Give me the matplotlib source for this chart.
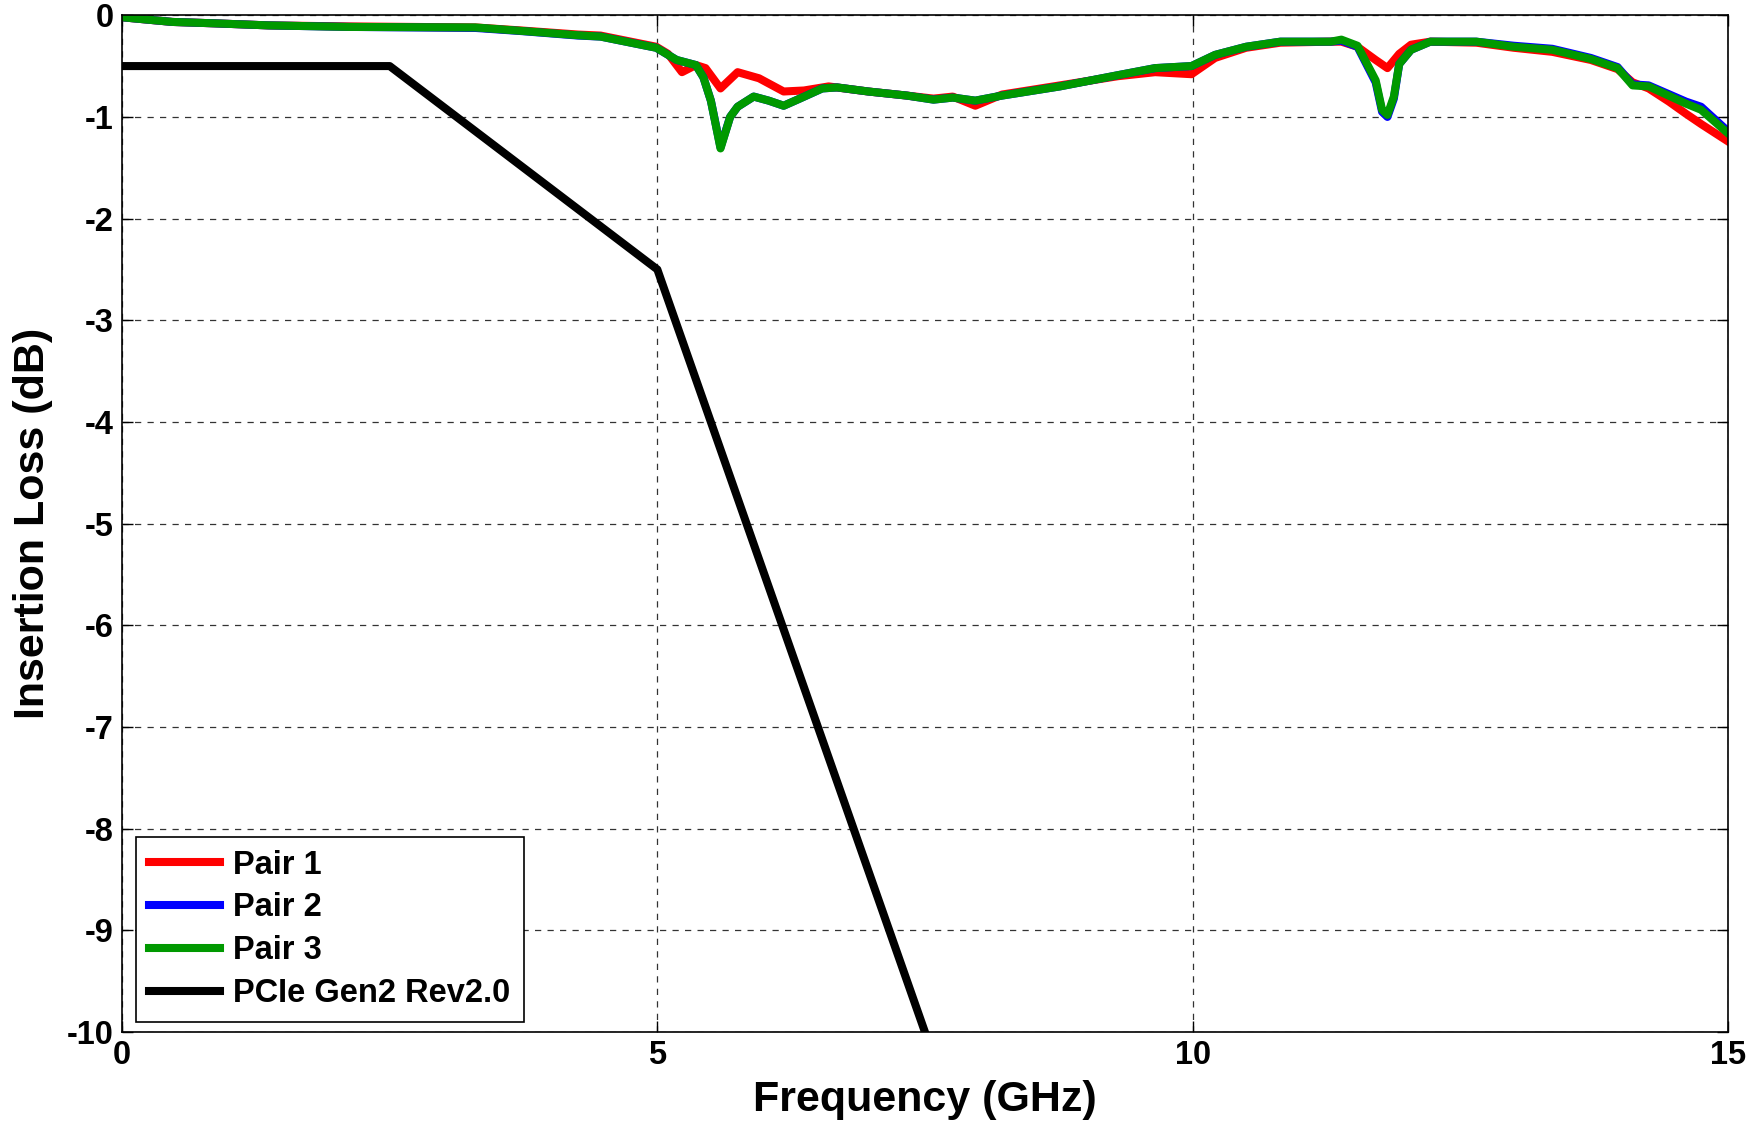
import matplotlib
matplotlib.use("Agg")
import matplotlib.pyplot as plt

# ---- data ----
freq_pair1 = [0, 0.47, 0.87, 1.37, 2.12, 3.3, 3.73, 4.26, 4.47, 4.8, 4.99, 5.1, 5.23, 5.36, 5.45,
              5.59, 5.75, 5.95, 6.18, 6.37, 6.6, 6.97, 7.33, 7.58, 7.76, 7.97, 8.22, 8.76, 9.3,
              9.65, 9.99, 10.21, 10.5, 10.82, 11.29, 11.39, 11.54, 11.71, 11.82, 11.93, 12.04,
              12.22, 12.65, 13.0, 13.36, 13.72, 13.97, 14.11, 14.26, 14.45, 14.61, 14.75, 15.0]
loss_pair1 = [-0.02, -0.066, -0.08, -0.1, -0.11, -0.12, -0.15, -0.19, -0.2, -0.27, -0.31, -0.38,
              -0.56, -0.49, -0.52, -0.72, -0.56, -0.62, -0.75, -0.74, -0.70, -0.75, -0.79, -0.82,
              -0.80, -0.89, -0.78, -0.69, -0.60, -0.56, -0.58, -0.42, -0.32, -0.27, -0.26, -0.26,
              -0.31, -0.44, -0.52, -0.38, -0.29, -0.26, -0.27, -0.32, -0.36, -0.44, -0.53, -0.66,
              -0.72, -0.85, -0.97, -1.07, -1.24]

freq_pair2 = [0, 0.47, 0.87, 1.37, 2.12, 3.3, 3.73, 4.26, 4.47, 4.8, 4.99, 5.18, 5.36, 5.43, 5.5,
              5.59, 5.68, 5.75, 5.9, 6.04, 6.18, 6.33, 6.54, 6.68, 6.97, 7.33, 7.58, 7.76, 7.97,
              8.22, 8.76, 9.3, 9.65, 9.99, 10.21, 10.5, 10.82, 11.29, 11.39, 11.54, 11.71, 11.77,
              11.82, 11.88, 11.93, 12.04, 12.22, 12.65, 13.0, 13.36, 13.72, 13.97, 14.11, 14.26,
              14.61, 14.75, 15.0]
loss_pair2 = [-0.02, -0.066, -0.08, -0.1, -0.115, -0.125, -0.156, -0.2, -0.21, -0.28, -0.32,
              -0.44, -0.49, -0.61, -0.84, -1.30, -1.0, -0.9, -0.8, -0.84, -0.89, -0.82, -0.72,
              -0.71, -0.75, -0.79, -0.83, -0.81, -0.84, -0.79, -0.70, -0.59, -0.52, -0.50, -0.39,
              -0.31, -0.26, -0.26, -0.25, -0.31, -0.66, -0.95, -1.0, -0.82, -0.48, -0.34, -0.26,
              -0.26, -0.30, -0.33, -0.42, -0.51, -0.68, -0.69, -0.85, -0.90, -1.14]

freq_pair3 = [0, 0.47, 0.87, 1.37, 2.12, 3.3, 3.73, 4.26, 4.47, 4.8, 4.99, 5.18, 5.36, 5.43, 5.5,
              5.59, 5.68, 5.75, 5.9, 6.04, 6.18, 6.33, 6.54, 6.68, 6.97, 7.33, 7.58, 7.76, 7.97,
              8.22, 8.76, 9.3, 9.65, 9.99, 10.21, 10.5, 10.82, 11.29, 11.39, 11.54, 11.71, 11.77,
              11.82, 11.88, 11.93, 12.04, 12.22, 12.65, 13.0, 13.36, 13.72, 13.97, 14.11, 14.26,
              14.61, 14.75, 15.0]
loss_pair3 = [-0.02, -0.066, -0.08, -0.1, -0.115, -0.12, -0.154, -0.197, -0.21, -0.28, -0.32,
              -0.44, -0.49, -0.61, -0.84, -1.31, -1.0, -0.9, -0.8, -0.84, -0.89, -0.82, -0.72,
              -0.71, -0.75, -0.79, -0.83, -0.81, -0.84, -0.79, -0.70, -0.59, -0.52, -0.50, -0.39,
              -0.31, -0.26, -0.26, -0.24, -0.30, -0.64, -0.93, -0.98, -0.80, -0.48, -0.34, -0.26,
              -0.26, -0.31, -0.34, -0.43, -0.52, -0.69, -0.70, -0.87, -0.93, -1.16]

freq_pcie = [0, 2.5, 5, 7.5]
loss_pcie = [-0.5, -0.5, -2.5, -10]

labels = ["Pair 1", "Pair 2", "Pair 3", "PCIe Gen2 Rev2.0"]
x_ticks = [0, 5, 10, 15]
y_ticks = [0, -1, -2, -3, -4, -5, -6, -7, -8, -9, -10]

# ---- plot ----
plt.rcParams['font.family'] = ['Liberation Sans', 'DejaVu Sans']
plt.rcParams['font.weight'] = 'bold'

fig = plt.figure(figsize=(17.54, 11.28), dpi=100)
ax = fig.add_axes([0.0696, 0.085, 0.9155, 0.9015])

lw = 5.8
ax.plot(freq_pair1, loss_pair1, color='#ff0000', lw=lw, label=labels[0], solid_joinstyle='round')
ax.plot(freq_pair2, loss_pair2, color='#0000ff', lw=lw, label=labels[1], solid_joinstyle='round')
ax.plot(freq_pair3, loss_pair3, color='#009900', lw=lw, label=labels[2], solid_joinstyle='round')
ax.plot(freq_pcie, loss_pcie, color='black', lw=lw, label=labels[3])

ax.set_xlim(0, 15)
ax.set_ylim(-10, 0)
ax.set_xticks(x_ticks)
ax.set_yticks(y_ticks)
ax.set_xticklabels([str(t) for t in x_ticks], fontsize=23.5, fontweight='bold')
ax.set_yticklabels([str(t) for t in y_ticks], fontsize=23.5, fontweight='bold')
ax.tick_params(direction='in', length=8, width=1, pad=6)
ax.tick_params(top=True, right=True)
ax.grid(True, color='black', linestyle=(0, (5, 5)), linewidth=0.9, alpha=0.8)
for s in ax.spines.values():
    s.set_linewidth(1.2)

ax.set_xlabel("Frequency (GHz)", fontsize=31, fontweight='bold', labelpad=6)
ax.set_ylabel("Insertion Loss (dB)", fontsize=31, fontweight='bold', labelpad=10)

leg = ax.legend(loc='lower left', bbox_to_anchor=(0.0084, 0.0099), fontsize=23.5,
                handlelength=2.2, handletextpad=0.4, labelspacing=0.36,
                borderpad=0.4, borderaxespad=0, fancybox=False, framealpha=1,
                edgecolor='black')
leg.get_frame().set_linewidth(1.2)
for t in leg.get_texts():
    t.set_fontweight('bold')

fig.savefig("out.png", dpi=100)
